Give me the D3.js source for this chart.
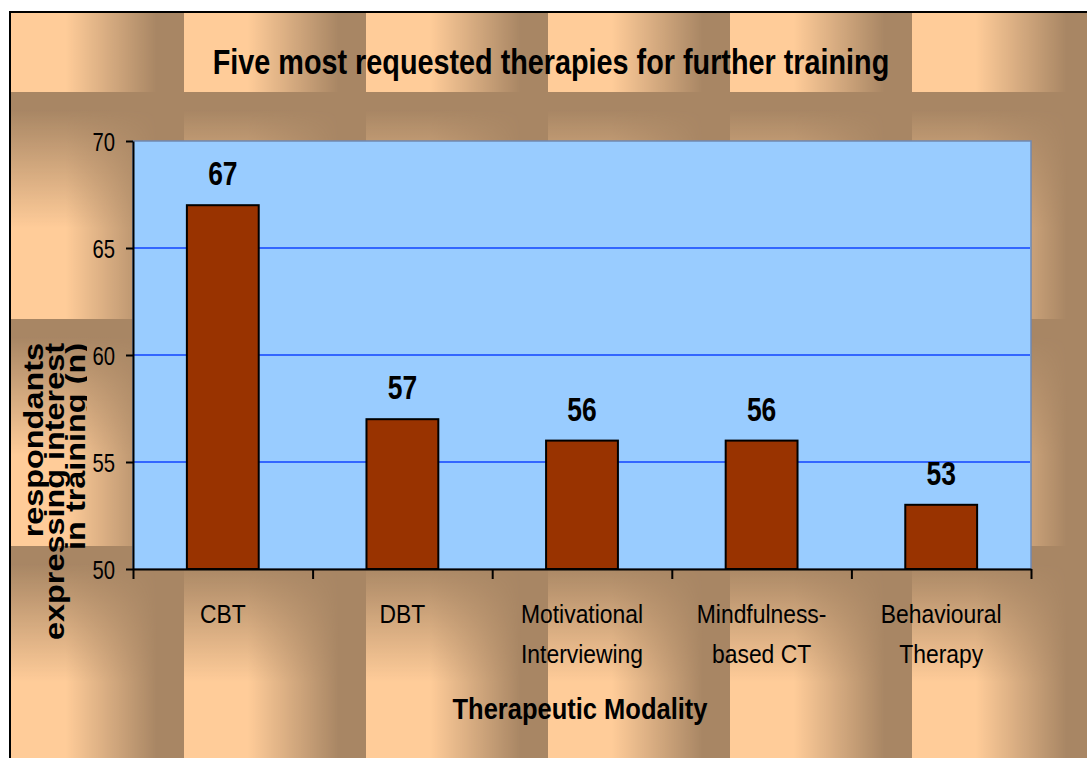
<!DOCTYPE html>
<html>
<head>
<meta charset="utf-8">
<script src="https://cdn.jsdelivr.net/npm/d3@7"></script>
<style>
  html, body { margin: 0; padding: 0; background: #fff; }
  svg { display: block; font-family: "Liberation Sans", Arial, sans-serif; }
</style>
</head>
<body>
<div id="chart"></div>
<script>
// chart data
const categories = ["CBT", "DBT", "Motivational Interviewing", "Mindfulness-based CT", "Behavioural Therapy"];
const categoryLines = [["CBT"], ["DBT"], ["Motivational", "Interviewing"], ["Mindfulness-", "based CT"], ["Behavioural", "Therapy"]];
const values = [67, 57, 56, 56, 53];
const yTicks = [50, 55, 60, 65, 70];
const yTitleLines = ["respondants", "expressing interest", "in training (n)"];

const width = 1087;
const height = 758;
const plot = {left: 133, right: 1031, top: 141, bottom: 569};

const svg = d3.select("#chart")
    .append("svg")
    .attr("width", width)
    .attr("height", height);

const defs = svg.append("defs");

// textured tile background
const hg = defs.append("linearGradient").attr("id", "hgrad").attr("x1", 0).attr("x2", 1).attr("y1", 0).attr("y2", 0);
hg.append("stop").attr("offset", 0.05).attr("stop-color", "#fff");
hg.append("stop").attr("offset", 0.35).attr("stop-color", "#fff");
hg.append("stop").attr("offset", 0.85).attr("stop-color", "#000");

const vg = defs.append("linearGradient").attr("id", "vgrad").attr("x1", 0).attr("x2", 0).attr("y1", 0).attr("y2", 1);
vg.append("stop").attr("offset", 0.08).attr("stop-color", "#ffcc99").attr("stop-opacity", 0);
vg.append("stop").attr("offset", 0.6).attr("stop-color", "#ffcc99").attr("stop-opacity", 1);

const mask = defs.append("mask").attr("id", "hmask")
    .attr("maskUnits", "userSpaceOnUse").attr("x", 0).attr("y", 0).attr("width", 182).attr("height", 227);
mask.append("rect").attr("width", 182).attr("height", 227).attr("fill", "url(#hgrad)");

const pattern = defs.append("pattern").attr("id", "tile")
    .attr("patternUnits", "userSpaceOnUse")
    .attr("x", 2).attr("y", -135).attr("width", 182).attr("height", 227);
pattern.append("rect").attr("width", 182).attr("height", 227).attr("fill", "#a88664");
pattern.append("rect").attr("width", 182).attr("height", 227).attr("fill", "url(#vgrad)").attr("mask", "url(#hmask)");

svg.append("rect")
    .attr("x", 11).attr("y", 13)
    .attr("width", width).attr("height", height)
    .attr("fill", "url(#tile)");
svg.append("rect")
    .attr("x", 10).attr("y", 12)
    .attr("width", width + 20).attr("height", height + 20)
    .attr("fill", "none")
    .attr("stroke", "#000")
    .attr("stroke-width", 2);

// scales
const x = d3.scaleBand()
    .domain(categories)
    .range([plot.left, plot.right])
    .paddingInner(0.6)
    .paddingOuter(0.3);

const xEdges = d3.scaleLinear()
    .domain([0, categories.length])
    .range([plot.left, plot.right]);

const y = d3.scaleLinear()
    .domain([50, 70])
    .range([plot.bottom, plot.top]);

// plot area
svg.append("rect")
    .attr("x", plot.left).attr("y", plot.top)
    .attr("width", plot.right - plot.left).attr("height", plot.bottom - plot.top)
    .attr("fill", "#99ccff")
    .attr("stroke", "#7088b0")
    .attr("stroke-width", 1.5);

// gridlines
svg.append("g")
    .selectAll("line")
    .data(yTicks.filter(d => d > 50 && d < 70))
    .join("line")
    .attr("x1", plot.left).attr("x2", plot.right - 1)
    .attr("y1", d => y(d)).attr("y2", d => y(d))
    .attr("stroke", "#3366ff")
    .attr("stroke-width", 2);

// bars
svg.append("g")
    .selectAll("rect")
    .data(values)
    .join("rect")
    .attr("x", (d, i) => x(categories[i]))
    .attr("y", d => y(d))
    .attr("width", x.bandwidth())
    .attr("height", d => y(50) - y(d))
    .attr("fill", "#993300")
    .attr("stroke", "#000")
    .attr("stroke-width", 2);

// value labels
svg.append("g")
    .selectAll("text")
    .data(values)
    .join("text")
    .attr("transform", (d, i) => `translate(${x(categories[i]) + x.bandwidth() / 2},${y(d) - 20}) scale(0.8,1)`)
    .attr("text-anchor", "middle")
    .style("font-size", "33px")
    .style("font-weight", "bold")
    .text(d => d);

// y axis
const yAxis = svg.append("g")
    .attr("transform", `translate(${plot.left},0)`)
    .call(d3.axisLeft(y).tickValues(yTicks).tickSize(7).tickSizeOuter(0).tickPadding(0).tickFormat(""));
yAxis.select(".domain").attr("stroke", "#000").attr("stroke-width", 2);
yAxis.selectAll(".tick line").attr("stroke", "#000").attr("stroke-width", 2);
yAxis.selectAll(".tick")
    .append("text")
    .attr("transform", "translate(-18,0) scale(0.78,1)")
    .attr("dy", "0.36em")
    .attr("text-anchor", "end")
    .attr("fill", "#000")
    .style("font-size", "26px")
    .style("font-family", "\"Liberation Sans\", Arial, sans-serif")
    .text(d => d);

// x axis
const xAxis = svg.append("g")
    .attr("transform", `translate(0,${plot.bottom})`)
    .call(d3.axisBottom(xEdges).ticks(categories.length).tickSize(10).tickSizeOuter(0).tickFormat(""));
xAxis.select(".domain").attr("stroke", "#000").attr("stroke-width", 2);
xAxis.selectAll(".tick line").attr("stroke", "#000").attr("stroke-width", 2);

// category labels
const catLabels = svg.append("g")
    .selectAll("g")
    .data(categoryLines)
    .join("g")
    .attr("transform", (d, i) => `translate(${x(categories[i]) + x.bandwidth() / 2},0)`);
catLabels.selectAll("text")
    .data(d => d)
    .join("text")
    .attr("transform", (d, j) => `translate(0,${623 + j * 40}) scale(0.88,1)`)
    .attr("text-anchor", "middle")
    .style("font-size", "26px")
    .text(d => d);

// title
svg.append("text")
    .attr("transform", `translate(551,74) scale(0.8,1)`)
    .attr("text-anchor", "middle")
    .style("font-size", "36px")
    .style("font-weight", "bold")
    .text("Five most requested therapies for further training");

// x axis title
svg.append("text")
    .attr("transform", `translate(${(plot.left + plot.right) / 2 - 2},719) scale(0.88,1)`)
    .attr("text-anchor", "middle")
    .style("font-size", "29px")
    .style("font-weight", "bold")
    .text("Therapeutic Modality");

// y axis title
defs.append("clipPath").attr("id", "yclip")
    .append("rect").attr("x", 11).attr("y", 13).attr("width", 76).attr("height", 740);

svg.append("g")
    .attr("clip-path", "url(#yclip)")
    .selectAll("text")
    .data(yTitleLines)
    .join("text")
    .attr("transform", (d, i) => `translate(${43 + i * 21},343) rotate(-90) scale(1.2,1)`)
    .attr("text-anchor", "end")
    .style("font-size", "27px")
    .style("font-weight", "bold")
    .text(d => d);
</script>
</body>
</html>
